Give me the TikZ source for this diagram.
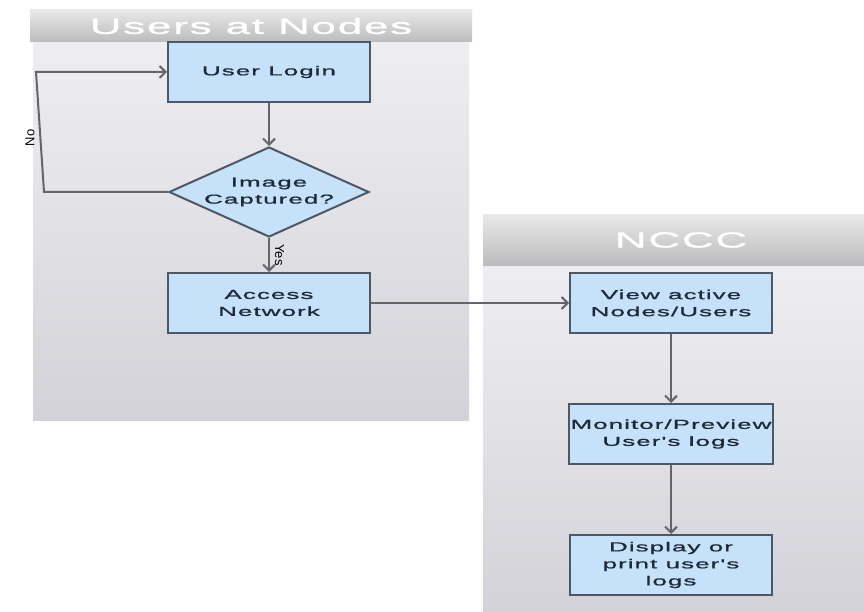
\documentclass[tikz,border=0pt]{standalone}
\usepackage{fontspec}
\setmainfont{Liberation Sans}
\newfontfamily\widefont[FakeStretch=2.0,LetterSpace=8,FakeBold=1]{Liberation Sans}
\usetikzlibrary{shapes.geometric,arrows.meta}

\definecolor{boxblue}{RGB}{198,225,250}
\definecolor{boxedge}{RGB}{78,88,100}
\definecolor{boxtext}{RGB}{30,42,56}
\definecolor{linegray}{RGB}{100,100,106}
\definecolor{laneTop}{RGB}{238,238,242}
\definecolor{laneBot}{RGB}{210,210,216}
\definecolor{headTop}{RGB}{232,232,232}
\definecolor{headBot}{RGB}{188,188,190}

\begin{document}
\begin{tikzpicture}[x=1pt,y=-1pt,
    procbox/.style={draw=boxedge, line width=2pt, fill=boxblue, text=boxtext,
      minimum width=202pt, minimum height=60pt, inner sep=2pt, align=center,
      font=\widefont\fontsize{13}{17}\selectfont},
    decbox/.style={procbox, shape=diamond, aspect=2.22, inner sep=0pt,
      minimum width=200pt, minimum height=90pt},
    flowline/.style={-{Straight Barb[length=6pt,width=12pt]}, line width=2pt, draw=linegray},
    lanetitle/.style={text=white, font=\widefont\fontsize{22}{22}\selectfont},
    flowlabel/.style={text=black, inner sep=5pt, font=\fontsize{13}{13}\selectfont}]
  \useasboundingbox (0,0) rectangle (864,612);
  \fill[white] (0,0) rectangle (864,612);

  % Lanes
  \shade[top color=laneTop, bottom color=laneBot] (33,42) rectangle (469,420);
  \shade[top color=headTop, bottom color=headBot] (30,10) rectangle (472,42);
  \shade[top color=laneTop, bottom color=laneBot] (483,265) rectangle (864,612);
  \shade[top color=headTop, bottom color=headBot] (483,215) rectangle (864,265);
  \node[lanetitle] (usershead) at (251,26) {Users at Nodes};
  \node[lanetitle] (nccchead) at (681,240) {NCCC};

  % Users at nodes
  \node[procbox] (login) at (269,72) {User Login};
  \node[decbox] (capt) at (269,192) {Image\\Captured?};
  \node[procbox] (access) at (269,303) {Access\\Network};

  % NCCC
  \node[procbox] (view) at (671,303) {View active\\Nodes/Users};
  \node[procbox] (monitor) at (671,434) {Monitor/Preview\\User's logs};
  \node[procbox] (display) at (671,565) {Display or\\print user's\\logs};

  % Connectors
  \draw[flowline] (login) -- (capt);
  \draw[flowline] (capt) -- node[flowlabel, rotate=-90, anchor=south] {Yes} (access);
  \draw[flowline] (capt.west) -- (44,192) -- node[flowlabel, rotate=90, anchor=south, pos=0.45] {No} (36,72) -- (login.west);
  \draw[flowline] (access) -- (view);
  \draw[flowline] (view) -- (monitor);
  \draw[flowline] (monitor) -- (display);
\end{tikzpicture}
\end{document}
